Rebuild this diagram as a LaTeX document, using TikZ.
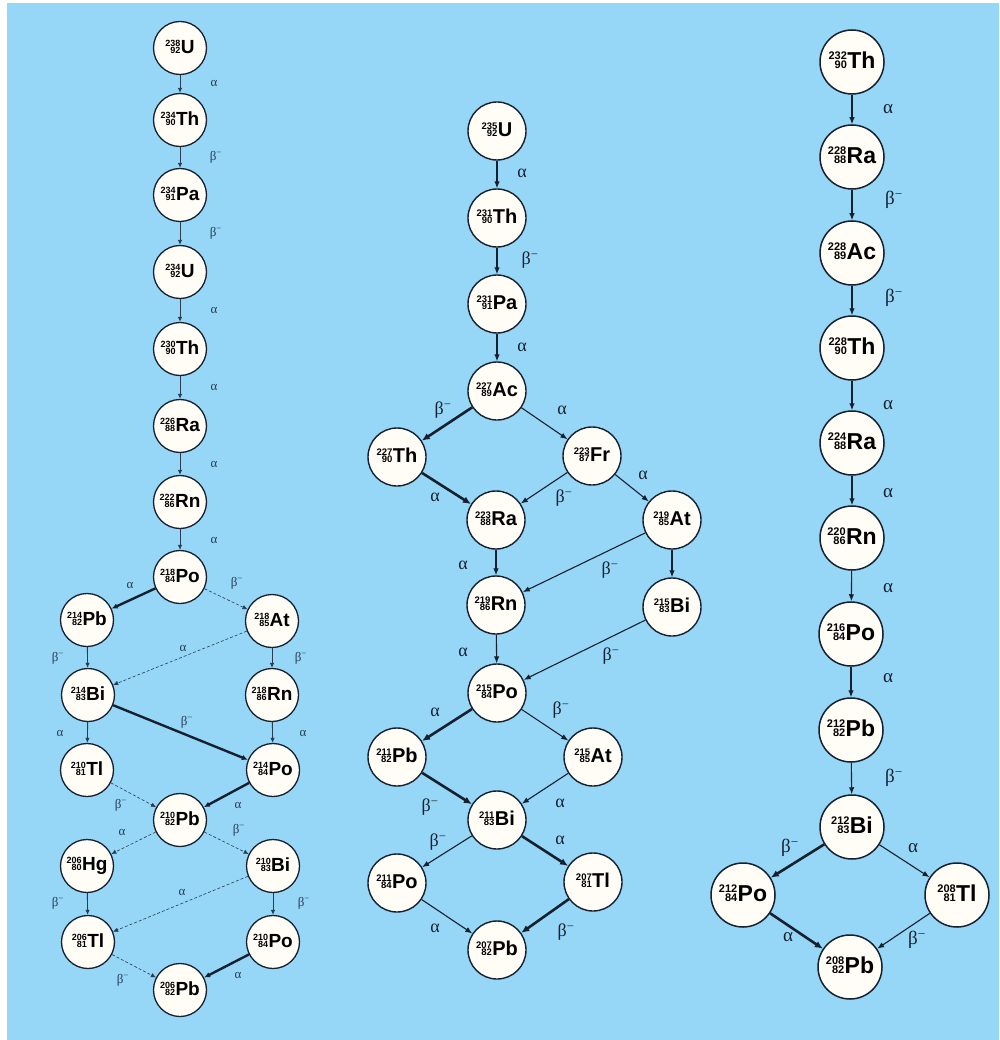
\documentclass[tikz,border=0pt]{standalone}
\usepackage{fontspec}
\setmainfont{Liberation Serif}
\setsansfont{Liberation Sans}
\usetikzlibrary{arrows.meta}
\definecolor{bg}{RGB}{150,214,247}
\definecolor{ln}{RGB}{22,32,46}
\definecolor{lnl}{RGB}{40,60,85}
\definecolor{cf}{RGB}{255,253,246}
\newcommand\numsz{}
\newcommand\nuc[3]{{\numsz\begin{tabular}[b]{@{}r@{}}#1\\[-1.8pt]#2\end{tabular}}\kern0.4pt#3}
\newcommand\nodefontA{\sffamily\bfseries\fontsize{19}{19}\selectfont\renewcommand\numsz{\fontsize{9}{9}\selectfont}}
\newcommand\nodefontB{\sffamily\bfseries\fontsize{20}{20}\selectfont\renewcommand\numsz{\fontsize{9.5}{9.5}\selectfont}}
\newcommand\nodefontC{\sffamily\bfseries\fontsize{23}{23}\selectfont\renewcommand\numsz{\fontsize{11}{11}\selectfont}}
\newcommand\bm{β\textsuperscript{−}}
\begin{document}
\begin{tikzpicture}[x=1pt,y=-1pt,
  nucA/.style={circle,draw=ln,line width=1.3pt,fill=cf,minimum size=53pt,inner sep=0pt,font=\nodefontA},
  nucB/.style={circle,draw=ln,line width=1.4pt,fill=cf,minimum size=58pt,inner sep=0pt,font=\nodefontB},
  nucC/.style={circle,draw=ln,line width=1.5pt,fill=cf,minimum size=64pt,inner sep=0pt,font=\nodefontC},
  thinA/.style={draw=lnl,line width=0.9pt,-{Latex[length=5pt,width=4.5pt]}},
  dashA/.style={thinA,line width=0.6pt,dash pattern=on 3pt off 2pt},
  thickA/.style={thinA,draw=ln,line width=2.4pt,-{Latex[length=6pt,width=5.5pt]}},
  thinB/.style={draw=ln,line width=1.1pt,-{Latex[length=7pt,width=5.5pt]}},
  thickB/.style={thinB,line width=2.6pt,-{Latex[length=8pt,width=7pt]}},
  labA/.style={font=\fontsize{13}{13}\selectfont,text=lnl},
  labB/.style={font=\fontsize{18}{18}\selectfont,text=ln},
  labC/.style={font=\fontsize{19}{19}\selectfont,text=ln}]
\useasboundingbox (0,0) rectangle (999,1040);
\fill[white] (0,0) rectangle (999,1040);
\fill[bg] (7,3) rectangle (999,1040);

% ---------- left column (U-238) ----------
\node[nucA] (u238) at (180,48) {\nuc{238}{92}{U}};
\node[nucA] (th234) at (180,120) {\nuc{234}{90}{Th}};
\node[nucA] (pa234) at (180,195) {\nuc{234}{91}{Pa}};
\node[nucA] (u234) at (180,272) {\nuc{234}{92}{U}};
\node[nucA] (th230) at (180,349) {\nuc{230}{90}{Th}};
\node[nucA] (ra226) at (180,426) {\nuc{226}{88}{Ra}};
\node[nucA] (rn222) at (180,502) {\nuc{222}{86}{Rn}};
\node[nucA] (po218) at (180,577) {\nuc{218}{84}{Po}};
\node[nucA] (pb214) at (87,620) {\nuc{214}{82}{Pb}};
\node[nucA] (at218) at (272,621) {\nuc{218}{85}{At}};
\node[nucA] (bi214) at (88,695) {\nuc{214}{83}{Bi}};
\node[nucA] (rn218) at (272,695) {\nuc{218}{86}{Rn}};
\node[nucA] (tl210) at (87,770) {\nuc{210}{81}{Tl}};
\node[nucA] (po214) at (273,770) {\nuc{214}{84}{Po}};
\node[nucA] (pb210) at (180,820) {\nuc{210}{82}{Pb}};
\node[nucA] (hg206) at (87,866) {\nuc{206}{80}{Hg}};
\node[nucA] (bi210) at (273,866) {\nuc{210}{83}{Bi}};
\node[nucA] (tl206) at (88,942) {\nuc{206}{81}{Tl}};
\node[nucA] (po210) at (273,942) {\nuc{210}{84}{Po}};
\node[nucA] (pb206) at (180,990) {\nuc{206}{82}{Pb}};

\draw[thinA] (u238) -- (th234) node[labA] at (214,84) {α};
\draw[thinA] (th234) -- (pa234) node[labA] at (216,157) {\bm};
\draw[thinA] (pa234) -- (u234) node[labA] at (216,233) {\bm};
\draw[thinA] (u234) -- (th230) node[labA] at (214,310) {α};
\draw[thinA] (th230) -- (ra226) node[labA] at (214,387) {α};
\draw[thinA] (ra226) -- (rn222) node[labA] at (214,464) {α};
\draw[thinA] (rn222) -- (po218) node[labA] at (214,540) {α};
\draw[thickA] (po218) -- (pb214) node[labA] at (130,585) {α};
\draw[dashA] (po218) -- (at218) node[labA] at (237,583) {\bm};
\draw[thinA] (pb214) -- (bi214) node[labA] at (58,658) {\bm};
\draw[dashA] (at218) -- (bi214) node[labA] at (183,648) {α};
\draw[thinA] (at218) -- (rn218) node[labA] at (301,658) {\bm};
\draw[thinA] (bi214) -- (tl210) node[labA] at (60,733) {α};
\draw[thickA] (bi214) -- (po214) node[labA] at (187,722) {\bm};
\draw[thinA] (rn218) -- (po214) node[labA] at (303,733) {α};
\draw[dashA] (tl210) -- (pb210) node[labA] at (121,805) {\bm};
\draw[thickA] (po214) -- (pb210) node[labA] at (238,805) {α};
\draw[dashA] (pb210) -- (hg206) node[labA] at (122,832) {α};
\draw[dashA] (pb210) -- (bi210) node[labA] at (239,830) {\bm};
\draw[thinA] (hg206) -- (tl206) node[labA] at (58,903) {\bm};
\draw[dashA] (bi210) -- (tl206) node[labA] at (182,892) {α};
\draw[thinA] (bi210) -- (po210) node[labA] at (304,903) {\bm};
\draw[dashA] (tl206) -- (pb206) node[labA] at (123,980) {\bm};
\draw[thickA] (po210) -- (pb206) node[labA] at (238,975) {α};

% ---------- middle column (U-235) ----------
\node[nucB] (u235) at (497,131) {\nuc{235}{92}{U}};
\node[nucB] (th231) at (497,218) {\nuc{231}{90}{Th}};
\node[nucB] (pa231) at (497,304) {\nuc{231}{91}{Pa}};
\node[nucB] (ac227) at (497,391) {\nuc{227}{89}{Ac}};
\node[nucB] (th227) at (397,457) {\nuc{227}{90}{Th}};
\node[nucB] (fr223) at (592,456) {\nuc{223}{87}{Fr}};
\node[nucB] (ra223) at (496,520) {\nuc{223}{88}{Ra}};
\node[nucB] (at219) at (672,520) {\nuc{219}{85}{At}};
\node[nucB] (rn219) at (496,605) {\nuc{219}{86}{Rn}};
\node[nucB] (bi215) at (672,607) {\nuc{215}{83}{Bi}};
\node[nucB] (po215) at (497,693) {\nuc{215}{84}{Po}};
\node[nucB] (pb211) at (397,757) {\nuc{211}{82}{Pb}};
\node[nucB] (at215) at (593,757) {\nuc{215}{85}{At}};
\node[nucB] (bi211) at (497,820) {\nuc{211}{83}{Bi}};
\node[nucB] (po211) at (397,883) {\nuc{211}{84}{Po}};
\node[nucB] (tl207) at (593,882) {\nuc{207}{81}{Tl}};
\node[nucB] (pb207) at (497,950) {\nuc{207}{82}{Pb}};

\draw[thinB] (u235) -- (th231) node[labB] at (522,173) {α};
\draw[thinB] (th231) -- (pa231) node[labB] at (530,260) {\bm};
\draw[thinB] (pa231) -- (ac227) node[labB] at (522,347) {α};
\draw[thickB] (ac227) -- (th227) node[labB] at (443,410) {\bm};
\draw[thinB] (ac227) -- (fr223) node[labB] at (562,410) {α};
\draw[thickB] (th227) -- (ra223) node[labB] at (435,497) {α};
\draw[thinB] (fr223) -- (ra223) node[labB] at (564,498) {\bm};
\draw[thinB] (fr223) -- (at219) node[labB] at (643,475) {α};
\draw[thinB] (ra223) -- (rn219) node[labB] at (463,565) {α};
\draw[thinB] (at219) -- (rn219) node[labB] at (610,570) {\bm};
\draw[thinB] (at219) -- (bi215);
\draw[thinB] (rn219) -- (po215) node[labB] at (463,652) {α};
\draw[thinB] (bi215) -- (po215) node[labB] at (611,656) {\bm};
\draw[thickB] (po215) -- (pb211) node[labB] at (435,712) {α};
\draw[thinB] (po215) -- (at215) node[labB] at (561,710) {\bm};
\draw[thickB] (pb211) -- (bi211) node[labB] at (430,807) {\bm};
\draw[thinB] (at215) -- (bi211) node[labB] at (560,803) {α};
\draw[thinB] (bi211) -- (po211) node[labB] at (438,842) {\bm};
\draw[thickB] (bi211) -- (tl207) node[labB] at (560,840) {α};
\draw[thinB] (po211) -- (pb207) node[labB] at (435,928) {α};
\draw[thickB] (tl207) -- (pb207) node[labB] at (566,932) {\bm};

% ---------- right column (Th-232) ----------
\node[nucC] (th232) at (852,62) {\nuc{232}{90}{Th}};
\node[nucC] (ra228) at (852,157) {\nuc{228}{88}{Ra}};
\node[nucC] (ac228) at (852,253) {\nuc{228}{89}{Ac}};
\node[nucC] (th228) at (852,348) {\nuc{228}{90}{Th}};
\node[nucC] (ra224) at (852,443) {\nuc{224}{88}{Ra}};
\node[nucC] (rn220) at (852,538) {\nuc{220}{86}{Rn}};
\node[nucC] (po216) at (851,634) {\nuc{216}{84}{Po}};
\node[nucC] (pb212) at (851,730) {\nuc{212}{82}{Pb}};
\node[nucC] (bi212) at (852,827) {\nuc{212}{83}{Bi}};
\node[nucC] (po212) at (743,895) {\nuc{212}{84}{Po}};
\node[nucC] (tl208) at (957,895) {\nuc{208}{81}{Tl}};
\node[nucC] (pb208) at (850,967) {\nuc{208}{82}{Pb}};

\draw[thinB] (th232) -- (ra228) node[labC] at (888,109) {α};
\draw[thinB] (ra228) -- (ac228) node[labC] at (894,200) {\bm};
\draw[thinB] (ac228) -- (th228) node[labC] at (894,298) {\bm};
\draw[thinB] (th228) -- (ra224) node[labC] at (888,405) {α};
\draw[thinB] (ra224) -- (rn220) node[labC] at (888,493) {α};
\draw[thinB] (rn220) -- (po216) node[labC] at (888,588) {α};
\draw[thinB] (po216) -- (pb212) node[labC] at (888,678) {α};
\draw[thinB] (pb212) -- (bi212) node[labC] at (894,778) {\bm};
\draw[thickB] (bi212) -- (po212) node[labC] at (790,848) {\bm};
\draw[thinB] (bi212) -- (tl208) node[labC] at (913,848) {α};
\draw[thickB] (po212) -- (pb208) node[labC] at (788,937) {α};
\draw[thinB] (tl208) -- (pb208) node[labC] at (917,940) {\bm};
\end{tikzpicture}
\end{document}
